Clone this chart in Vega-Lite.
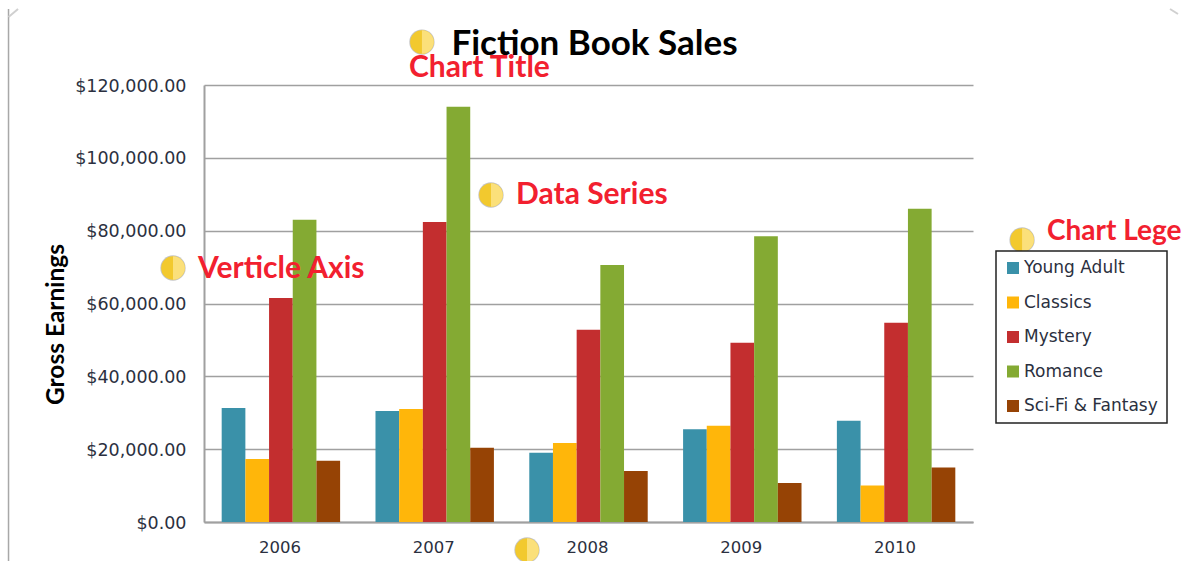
{
"$schema":"https://vega.github.io/schema/vega-lite/v6.json",
"width":769,"height":437,
"autosize":{"type":"none"},
"padding":{"left":204,"top":85,"right":210,"bottom":39},
"background":"white",
"config":{"view":{"stroke":null},"legend":{"strokeWidth":1.5}},
"title":{"text":"Fiction Book Sales","font":"Lato","fontWeight":"bold","fontSize":35,"color":"#000000","anchor":"middle","dx":6,"offset":-54},
"datasets":{
"sales":[
{"year":"2006","genre":"Young Adult","earnings":31300},{"year":"2006","genre":"Classics","earnings":17300},{"year":"2006","genre":"Mystery","earnings":61500},{"year":"2006","genre":"Romance","earnings":83000},{"year":"2006","genre":"Sci-Fi & Fantasy","earnings":16800},
{"year":"2007","genre":"Young Adult","earnings":30500},{"year":"2007","genre":"Classics","earnings":31000},{"year":"2007","genre":"Mystery","earnings":82400},{"year":"2007","genre":"Romance","earnings":114000},{"year":"2007","genre":"Sci-Fi & Fantasy","earnings":20400},
{"year":"2008","genre":"Young Adult","earnings":19000},{"year":"2008","genre":"Classics","earnings":21700},{"year":"2008","genre":"Mystery","earnings":52800},{"year":"2008","genre":"Romance","earnings":70600},{"year":"2008","genre":"Sci-Fi & Fantasy","earnings":14000},
{"year":"2009","genre":"Young Adult","earnings":25500},{"year":"2009","genre":"Classics","earnings":26400},{"year":"2009","genre":"Mystery","earnings":49200},{"year":"2009","genre":"Romance","earnings":78500},{"year":"2009","genre":"Sci-Fi & Fantasy","earnings":10700},
{"year":"2010","genre":"Young Adult","earnings":27800},{"year":"2010","genre":"Classics","earnings":10000},{"year":"2010","genre":"Mystery","earnings":54700},{"year":"2010","genre":"Romance","earnings":86000},{"year":"2010","genre":"Sci-Fi & Fantasy","earnings":15000}
],
"labels":[
{"label":"Chart Title","pos":1.333,"level":124600},
{"label":"Data Series","pos":2.029,"level":89800},
{"label":"Verticle Axis","pos":-0.039,"level":69400}
],
"edgeLabel":[
{"label":"Chart Lege","pos":5.481,"level":79600}
],
"bullets":[
{"pos":1.417,"level":131800},
{"pos":1.866,"level":89800},
{"pos":-0.2016,"level":69750},
{"pos":5.319,"level":77440},
{"pos":2.1,"level":-7690}
],
"frame":[{"pos":-1.271,"top":140870,"bottom":-10700}],
"corners":[
{"pos":-1.271,"pos2":-1.209,"top":138670,"bottom":140870},
{"pos":6.281,"pos2":6.333,"top":140870,"bottom":139500}
]
},
"layer":[
{"data":{"name":"sales"},
 "mark":{"type":"bar"},
 "encoding":{
  "x":{"field":"year","type":"nominal","scale":{"paddingInner":0.23,"paddingOuter":0.115},
   "axis":{"title":null,"labelAngle":0,"labelFont":"DejaVu Sans","labelFontSize":16.5,"labelColor":"#2b3040","labelPadding":17,"labelOffset":-1,"ticks":false,"domainColor":"#a0a0a0","domainWidth":2}},
  "xOffset":{"field":"genre","type":"nominal","sort":["Young Adult","Classics","Mystery","Romance","Sci-Fi & Fantasy"],"scale":{"paddingInner":0,"paddingOuter":0}},
  "y":{"field":"earnings","type":"quantitative","scale":{"domain":[0,120000],"nice":false},
   "axis":{"title":"Gross Earnings","titleFont":"Lato","titleFontSize":24.5,"titleFontWeight":"bold","titleColor":"#000000","titleX":-136,"titleY":239,
    "format":"$,.2f","values":[0,20000,40000,60000,80000,100000,120000],"labelFont":"DejaVu Sans","labelFontSize":17.5,"labelColor":"#2b3040","labelPadding":18,"labelOffset":1,"ticks":false,"domainColor":"#a0a0a0","domainWidth":2,"grid":true,"gridColor":"#a0a0a0","gridWidth":1.5}},
  "color":{"field":"genre","type":"nominal","sort":["Young Adult","Classics","Mystery","Romance","Sci-Fi & Fantasy"],
   "scale":{"domain":["Young Adult","Classics","Mystery","Romance","Sci-Fi & Fantasy"],"range":["#3a91a9","#ffb60a","#c32e2f","#84aa33","#964305"]},
   "legend":{"title":null,"orient":"none","legendX":792,"legendY":166,"symbolType":"square","symbolSize":144,"symbolStrokeWidth":0,"labelFont":"DejaVu Sans","labelFontSize":17,"labelColor":"#2b3040","strokeColor":"#222222","fillColor":"white","padding":8.5,"rowPadding":16.5,"labelOffset":2.5,"labelLimit":200}}
 }},
{"data":{"name":"frame"},"mark":{"type":"rule","color":"#a8a8a8","strokeWidth":1.5},
 "encoding":{
  "x":{"field":"pos","type":"quantitative","scale":{"domain":[0,5],"nice":false,"zero":false},"axis":null},
  "y":{"field":"top","type":"quantitative"},
  "y2":{"field":"bottom"}}},
{"data":{"name":"corners"},"mark":{"type":"rule","color":"#d0d0d0","strokeWidth":2},
 "encoding":{
  "x":{"field":"pos","type":"quantitative","scale":{"domain":[0,5],"nice":false,"zero":false},"axis":null},
  "x2":{"field":"pos2"},
  "y":{"field":"top","type":"quantitative"},
  "y2":{"field":"bottom"}}},
{"data":{"name":"bullets"},"mark":{"type":"point","filled":true,"opacity":0.35,"color":"#555555","size":640,"shape":"circle","dy":2},
 "encoding":{
  "x":{"field":"pos","type":"quantitative","scale":{"domain":[0,5],"nice":false,"zero":false},"axis":null},
  "y":{"field":"level","type":"quantitative"}}},
{"data":{"name":"bullets"},"mark":{"type":"point","filled":true,"opacity":1,"color":"#f2c92e","size":560,"shape":"circle"},
 "encoding":{
  "x":{"field":"pos","type":"quantitative","scale":{"domain":[0,5],"nice":false,"zero":false},"axis":null},
  "y":{"field":"level","type":"quantitative"}}},
{"data":{"name":"bullets"},"mark":{"type":"point","filled":true,"opacity":1,"color":"#fbe07a","size":560,"shape":"M0,-1A1,1 0 0 1 0,1Z"},
 "encoding":{
  "x":{"field":"pos","type":"quantitative","scale":{"domain":[0,5],"nice":false,"zero":false},"axis":null},
  "y":{"field":"level","type":"quantitative"}}},
{"data":{"name":"labels"},"mark":{"type":"text","align":"left","baseline":"middle","font":"Lato","fontWeight":"bold","fontSize":30,"color":"#f2202f"},
 "encoding":{
  "x":{"field":"pos","type":"quantitative","scale":{"domain":[0,5],"nice":false,"zero":false},"axis":null},
  "y":{"field":"level","type":"quantitative"},
  "text":{"field":"label","type":"nominal"}}},
{"data":{"name":"edgeLabel"},"mark":{"type":"text","align":"left","baseline":"middle","font":"Lato","fontWeight":"bold","fontSize":28,"color":"#f2202f"},
 "encoding":{
  "x":{"field":"pos","type":"quantitative","scale":{"domain":[0,5],"nice":false,"zero":false},"axis":null},
  "y":{"field":"level","type":"quantitative"},
  "text":{"field":"label","type":"nominal"}}}
],
"resolve":{"scale":{"x":"independent"}}
}
